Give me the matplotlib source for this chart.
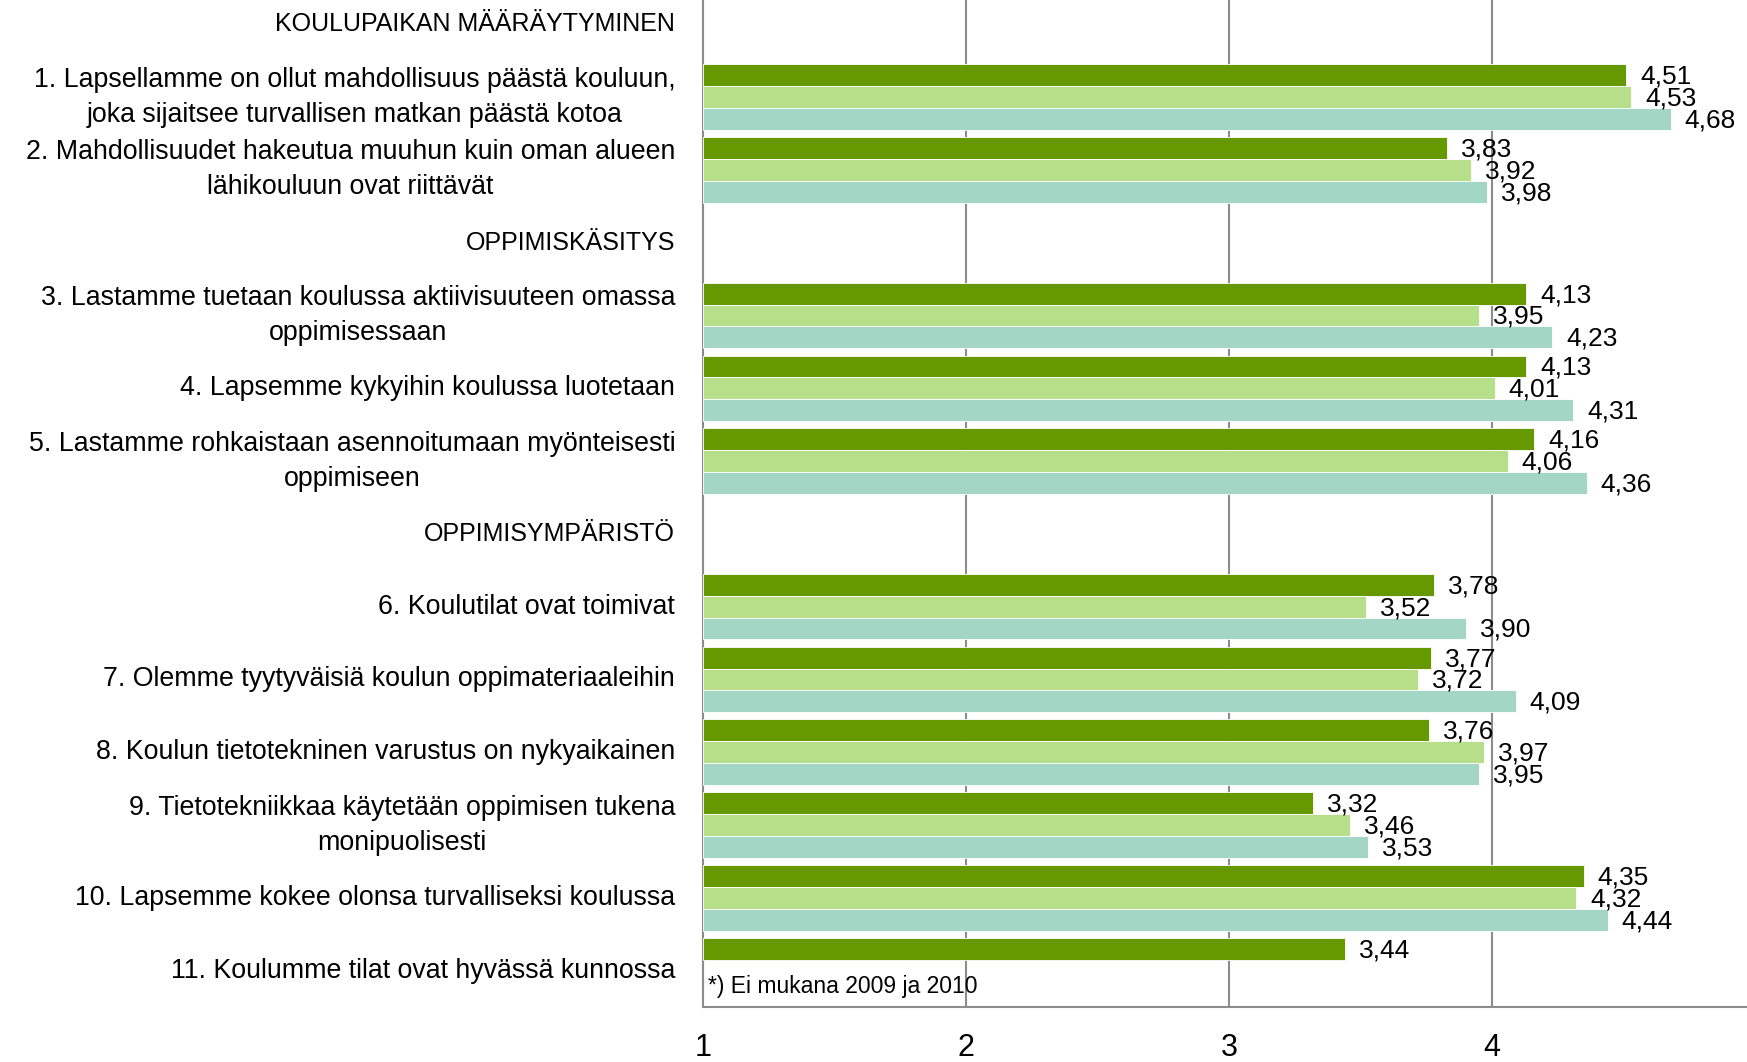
import matplotlib
matplotlib.use("Agg")
import matplotlib.pyplot as plt
import numpy as np

plt.rcParams['font.family'] = ['Liberation Sans Narrow', 'DejaVu Sans Condensed',
                               'Liberation Sans', 'DejaVu Sans']

# rows from top to bottom: section headers and questions
row_labels = [
    "KOULUPAIKAN MÄÄRÄYTYMINEN",
    "1. Lapsellamme on ollut mahdollisuus päästä kouluun,\njoka sijaitsee turvallisen matkan päästä kotoa",
    "2. Mahdollisuudet hakeutua muuhun kuin oman alueen\nlähikouluun ovat riittävät",
    "OPPIMISKÄSITYS",
    "3. Lastamme tuetaan koulussa aktiivisuuteen omassa\noppimisessaan",
    "4. Lapsemme kykyihin koulussa luotetaan",
    "5. Lastamme rohkaistaan asennoitumaan myönteisesti\noppimiseen",
    "OPPIMISYMPÄRISTÖ",
    "6. Koulutilat ovat toimivat",
    "7. Olemme tyytyväisiä koulun oppimateriaaleihin",
    "8. Koulun tietotekninen varustus on nykyaikainen",
    "9. Tietotekniikkaa käytetään oppimisen tukena\nmonipuolisesti",
    "10. Lapsemme kokee olonsa turvalliseksi koulussa",
    "11. Koulumme tilat ovat hyvässä kunnossa",
]
header_rows = [0, 3, 7]
question_rows = [1, 2, 4, 5, 6, 8, 9, 10, 11, 12, 13]

# three survey rounds (None = not asked)
s_dark = [4.51, 3.83, 4.13, 4.13, 4.16, 3.78, 3.77, 3.76, 3.32, 4.35, 3.44]
s_light = [4.53, 3.92, 3.95, 4.01, 4.06, 3.52, 3.72, 3.97, 3.46, 4.32, None]
s_teal = [4.68, 3.98, 4.23, 4.31, 4.36, 3.90, 4.09, 3.95, 3.53, 4.44, None]

colors = ['#669900', '#B7DF89', '#A4D6C6']
x_ticks = [1, 2, 3, 4]
note = "*) Ei mukana 2009 ja 2010"

fig = plt.figure(figsize=(17.47, 10.62), dpi=100)
ax = fig.add_axes([0.4024, 0.0518, 0.5976, 0.9595])

h = 0.3
for k, (vals, col) in enumerate(zip([s_dark, s_light, s_teal], colors)):
    off = (k - 1) * h
    for row, v in zip(question_rows, vals):
        if v is None:
            continue
        ax.barh(row + off, v - 1, left=1, height=h, color=col,
                edgecolor='white', linewidth=0.6, zorder=3)
        ax.annotate(f"{v:.2f}".replace('.', ','), (v, row + off),
                    xytext=(10, -1), textcoords='offset points',
                    va='center', ha='left', fontsize=19, zorder=4)

ax.text(1.02, 13.22, note, fontsize=16.5, va='center', ha='left')

ax.set_xlim(1, 4.97)
ax.set_ylim(13.5, -0.5)
ax.set_xticks(x_ticks)
ax.set_xticklabels([str(t) for t in x_ticks], fontsize=22)
ax.tick_params(axis='x', length=0, pad=19)
ax.set_yticks(range(len(row_labels)))
ax.set_yticklabels(row_labels, fontsize=19.3, linespacing=1.45)
ax.tick_params(axis='y', length=0, pad=20)
for i, lbl in enumerate(ax.get_yticklabels()):
    lbl.set_multialignment('center')
    lbl.set_verticalalignment('center')
    if i in header_rows:
        lbl.set_fontsize(18)

ax.grid(axis='x', color='#8c8c8c', linewidth=1.5, zorder=0)
for s in ['top', 'right']:
    ax.spines[s].set_visible(False)
for s in ['left', 'bottom']:
    ax.spines[s].set_color('#8c8c8c')
    ax.spines[s].set_linewidth(1.5)

fig.savefig('out.png', dpi=100)
